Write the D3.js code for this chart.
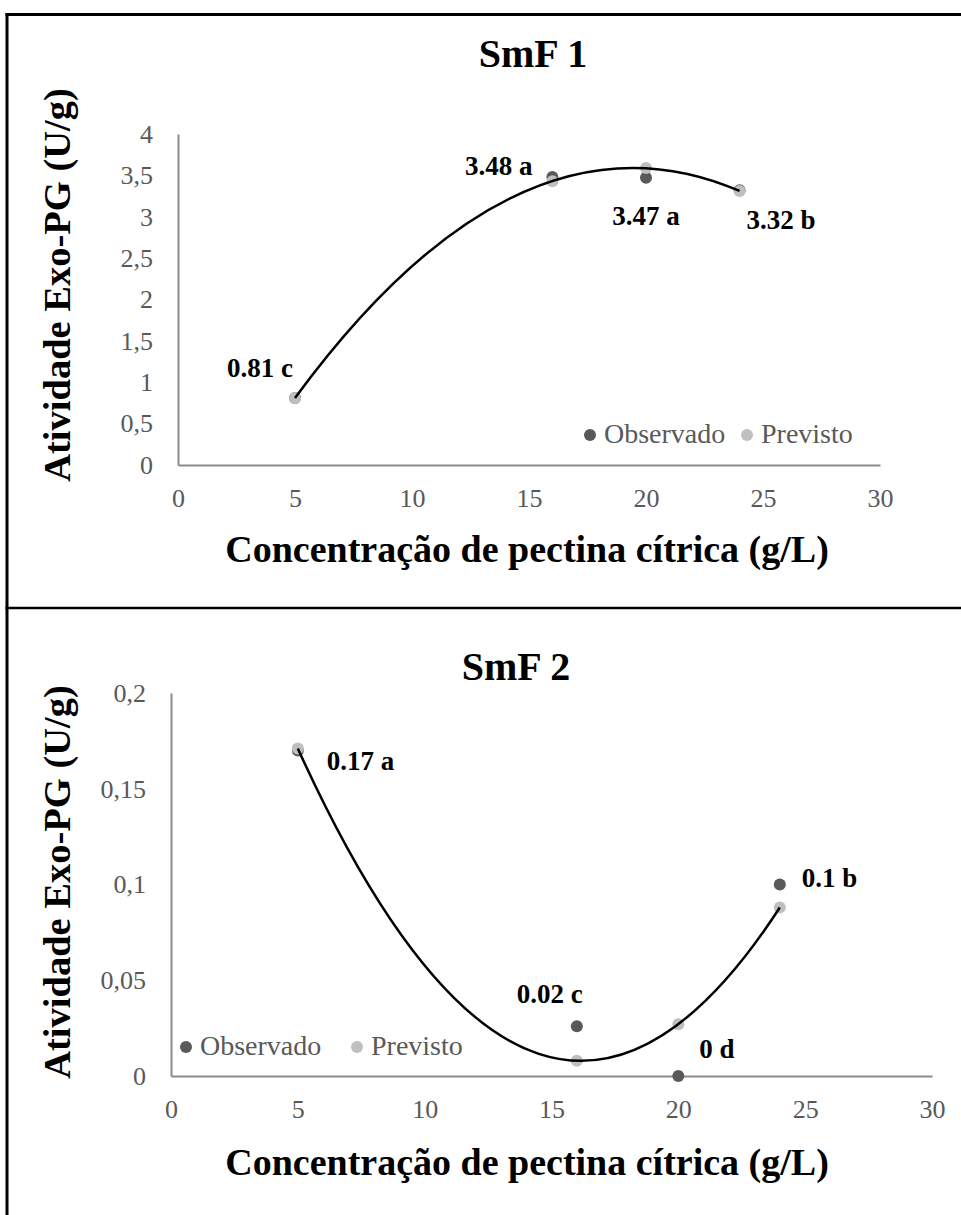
<!DOCTYPE html>
<html>
<head>
<meta charset="utf-8">
<script src="https://cdn.jsdelivr.net/npm/d3@7"></script>
<style>
  body { margin: 0; background: #fff; }
  svg { display: block; font-family: "Liberation Serif", "Times New Roman", serif; }
</style>
</head>
<body>
<div id="chart"></div>
<script>
// DATA
const concentrations = [5, 16, 20, 24];
const smf1Observed = [0.81, 3.48, 3.47, 3.32];
const smf1Predicted = [0.81, 3.43, 3.59, 3.31];
const smf1Labels = ["0.81 c", "3.48 a", "3.47 a", "3.32 b"];
const smf2Observed = [0.17, 0.026, 0, 0.1];
const smf2Predicted = [0.171, 0.008, 0.027, 0.088];
const smf2Labels = ["0.17 a", "0.02 c", "0 d", "0.1 b"];
const xTicks = [0, 5, 10, 15, 20, 25, 30];
const yTicks1 = [0, 0.5, 1, 1.5, 2, 2.5, 3, 3.5, 4];
const yTickLabels1 = ["0", "0,5", "1", "1,5", "2", "2,5", "3", "3,5", "4"];
const yTicks2 = [0, 0.05, 0.1, 0.15, 0.2];
const yTickLabels2 = ["0", "0,05", "0,1", "0,15", "0,2"];
const seriesNames = ["Observado", "Previsto"];

const width = 961, height = 1215;
const darkGray = "#595959", lightGray = "#bfbfbf", axisGray = "#8c8c8c";

// layout of the two panels
const panels = [
    {
        title: "SmF 1", observed: smf1Observed, predicted: smf1Predicted, labels: smf1Labels,
        yTicks: yTicks1, yTickLabels: yTickLabels1, yMax: 4,
        xRange: [178, 880], yRange: [465, 134],
        titleX: 533, titleY: 67, xLabelY: 562, yLabelY: 285,
        legendX: [590, 747], legendY: 435,
        labelPos: [["end", -2, -21], ["end", -20, -2], ["middle", 0, 47], ["start", 7, 39]]
    },
    {
        title: "SmF 2", observed: smf2Observed, predicted: smf2Predicted, labels: smf2Labels,
        yTicks: yTicks2, yTickLabels: yTickLabels2, yMax: 0.2,
        xRange: [171, 932], yRange: [1076, 693],
        titleX: 516, titleY: 680, xLabelY: 1175, yLabelY: 882,
        legendX: [186, 357], legendY: 1047,
        labelPos: [["start", 29, 20], ["middle", -27, -23], ["start", 21, -18], ["start", 22, 2]]
    }
];

const svg = d3.select("#chart")
    .append("svg")
    .attr("width", width)
    .attr("height", height);

// table borders around the two figures
svg.append("line").attr("x1", 7).attr("x2", 7).attr("y1", 13).attr("y2", height)
    .attr("stroke", "#000").attr("stroke-width", 3);
svg.append("line").attr("x1", 5.5).attr("x2", width).attr("y1", 14.5).attr("y2", 14.5)
    .attr("stroke", "#000").attr("stroke-width", 3);
svg.append("line").attr("x1", 5.5).attr("x2", width).attr("y1", 608).attr("y2", 608)
    .attr("stroke", "#000").attr("stroke-width", 2.5);

// least squares quadratic y = a x^2 + b x + c (Excel order 2 trendline)
function quadFit(xs, ys) {
    let s = [0, 0, 0, 0, 0], t = [0, 0, 0];
    xs.forEach((x, i) => {
        for (let k = 0; k < 5; k++) s[k] += Math.pow(x, k);
        for (let k = 0; k < 3; k++) t[k] += ys[i] * Math.pow(x, k);
    });
    // normal equations, unknowns [c, b, a]
    const m = [[s[0], s[1], s[2], t[0]], [s[1], s[2], s[3], t[1]], [s[2], s[3], s[4], t[2]]];
    for (let i = 0; i < 3; i++) {
        for (let j = i + 1; j < 3; j++) {
            const f = m[j][i] / m[i][i];
            for (let k = i; k < 4; k++) m[j][k] -= f * m[i][k];
        }
    }
    const r = [0, 0, 0];
    for (let i = 2; i >= 0; i--) {
        let v = m[i][3];
        for (let k = i + 1; k < 3; k++) v -= m[i][k] * r[k];
        r[i] = v / m[i][i];
    }
    return { c: r[0], b: r[1], a: r[2] };
}

panels.forEach(p => {
    const x = d3.scaleLinear().domain([0, 30]).range(p.xRange);
    const y = d3.scaleLinear().domain([0, p.yMax]).range(p.yRange);

    const points = concentrations.map((c, i) => ({
        conc: c, obs: p.observed[i], pred: p.predicted[i], label: p.labels[i], pos: p.labelPos[i]
    }));

    // AXES
    const gx = svg.append("g")
        .attr("transform", `translate(0,${p.yRange[0]})`)
        .call(d3.axisBottom(x).tickValues(xTicks).tickSize(0).tickSizeOuter(0).tickPadding(24));
    const gy = svg.append("g")
        .attr("transform", `translate(${p.xRange[0]},0)`)
        .call(d3.axisLeft(y).tickValues(p.yTicks)
            .tickFormat((d, i) => p.yTickLabels[i])
            .tickSize(0).tickSizeOuter(0).tickPadding(25));

    [gx, gy].forEach(g => {
        g.attr("font-family", null).attr("font-size", 26);
        g.select(".domain").attr("stroke", axisGray).attr("stroke-width", 2);
        g.selectAll("text").attr("fill", darkGray);
    });

    // POINTS
    svg.append("g").selectAll("circle")
        .data(points)
        .join("circle")
        .attr("cx", d => x(d.conc))
        .attr("cy", d => y(d.obs))
        .attr("r", 6)
        .attr("fill", darkGray);

    svg.append("g").selectAll("circle")
        .data(points)
        .join("circle")
        .attr("cx", d => x(d.conc))
        .attr("cy", d => y(d.pred))
        .attr("r", 6)
        .attr("fill", lightGray);

    // TRENDLINE (a parabola is exactly one quadratic bezier)
    const fit = quadFit(concentrations, p.predicted);
    const f = v => fit.a * v * v + fit.b * v + fit.c;
    const [x0, x1] = d3.extent(concentrations);
    const slope0 = 2 * fit.a * x0 + fit.b;
    const xm = (x0 + x1) / 2;
    const path = d3.path();
    path.moveTo(x(x0), y(f(x0)));
    path.quadraticCurveTo(x(xm), y(f(x0) + slope0 * (xm - x0)), x(x1), y(f(x1)));
    svg.append("path")
        .attr("d", path.toString())
        .attr("fill", "none")
        .attr("stroke", "#000")
        .attr("stroke-width", 2.5);

    // DATA LABELS
    svg.append("g").selectAll("text")
        .data(points)
        .join("text")
        .attr("x", d => x(d.conc) + d.pos[1])
        .attr("y", d => y(d.obs) + d.pos[2])
        .attr("text-anchor", d => d.pos[0])
        .attr("font-size", 27)
        .attr("font-weight", "bold")
        .text(d => d.label);

    // LEGEND
    const legend = svg.append("g");
    seriesNames.forEach((name, i) => {
        legend.append("circle")
            .attr("cx", p.legendX[i])
            .attr("cy", p.legendY)
            .attr("r", 6)
            .attr("fill", i === 0 ? darkGray : lightGray);
        legend.append("text")
            .attr("x", p.legendX[i] + 14)
            .attr("y", p.legendY + 8)
            .attr("font-size", 28)
            .attr("fill", darkGray)
            .text(name);
    });

    // TITLES
    svg.append("text")
        .attr("x", p.titleX)
        .attr("y", p.titleY)
        .attr("text-anchor", "middle")
        .attr("font-size", 40)
        .attr("font-weight", "bold")
        .text(p.title);

    svg.append("text")
        .attr("x", 527)
        .attr("y", p.xLabelY)
        .attr("text-anchor", "middle")
        .attr("font-size", 38)
        .attr("font-weight", "bold")
        .text("Concentração de pectina cítrica (g/L)");

    svg.append("text")
        .attr("transform", `translate(70,${p.yLabelY}) rotate(-90)`)
        .attr("text-anchor", "middle")
        .attr("font-size", 38.5)
        .attr("font-weight", "bold")
        .text("Atividade Exo-PG (U/g)");
});
</script>
</body>
</html>
